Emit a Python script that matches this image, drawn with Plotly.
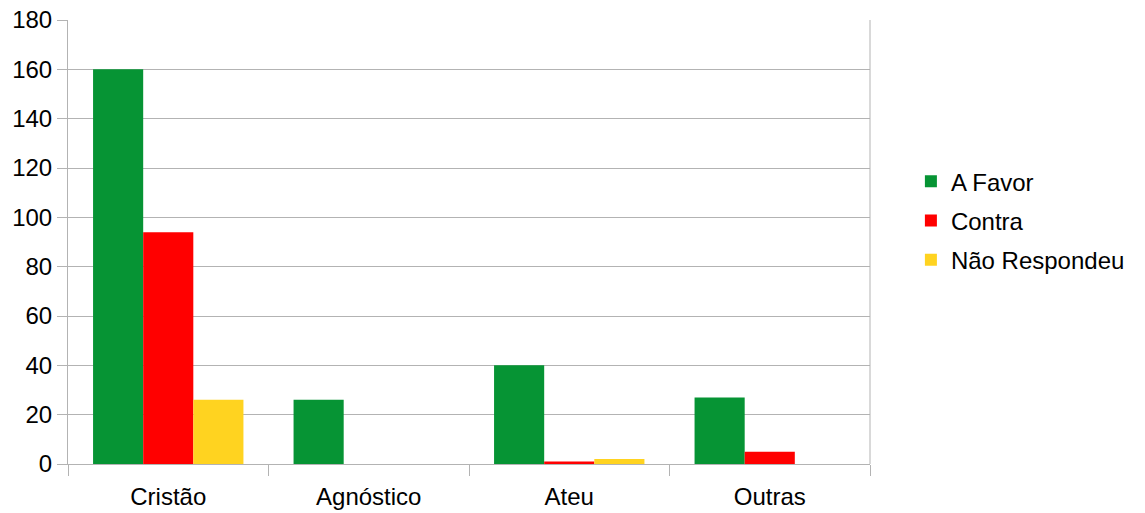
import plotly.graph_objects as go

categories = ["Cristão", "Agnóstico", "Ateu", "Outras"]
a_favor = [160, 26, 40, 27]
contra = [94, 0, 1, 5]
nao_respondeu = [26, 0, 2, 0]
series_names = ["A Favor", "Contra", "Não Respondeu"]
colors = ["#069434", "#ff0000", "#ffd320"]
y_ticks = [0, 20, 40, 60, 80, 100, 120, 140, 160, 180]

fig = go.Figure()
for i, (name, vals) in enumerate(zip(series_names, [a_favor, contra, nao_respondeu])):
    fig.add_trace(go.Bar(x=categories, y=vals, name=name, marker_color=colors[i],
                         marker_line_width=0, legendgroup=name))

font = dict(family="Liberation Sans, Arial, sans-serif", size=24, color="#000000")
fig.update_layout(
    width=1145, height=513,
    margin=dict(l=68, r=275, t=20, b=49),
    paper_bgcolor="white", plot_bgcolor="white",
    barmode="group", bargap=0.25, bargroupgap=0,
    font=font,
    legend=dict(x=1.051, y=0.548, xanchor="left", yanchor="middle",
                tracegroupgap=5, font=font, bgcolor="rgba(0,0,0,0)"),
    showlegend=True,
)
fig.update_xaxes(showgrid=False, showline=True, linecolor="#b3b3b3", linewidth=1,
                 ticks="outside", tickson="boundaries", ticklen=11, tickcolor="#b3b3b3",
                 tickfont=font, ticklabelstandoff=11, mirror=False, automargin=False)
fig.update_yaxes(range=[0, 180], tickvals=y_ticks, showgrid=True, gridcolor="#b3b3b3",
                 gridwidth=1, showline=True, linecolor="#b3b3b3", linewidth=1,
                 ticks="outside", ticklen=10, tickcolor="#b3b3b3", tickfont=font,
                 zeroline=False, automargin=False)
fig.add_shape(type="line", xref="paper", yref="paper", x0=1, x1=1, y0=0, y1=1,
              line=dict(color="#b3b3b3", width=1))
fig.write_html("out.html", config={"displayModeBar": False},
               post_script="document.body.style.margin='0';")
